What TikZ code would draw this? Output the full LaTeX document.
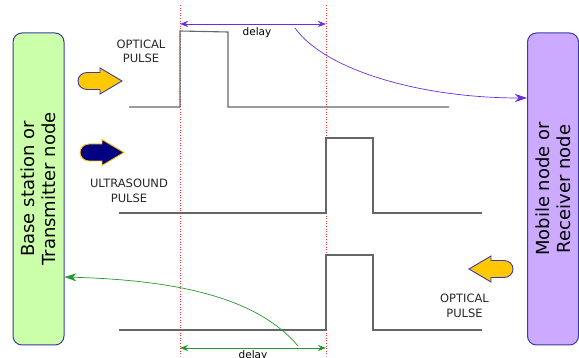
\documentclass[tikz,border=0pt]{standalone}
\usepackage{fontspec}
\setmainfont{DejaVu Sans}
\usetikzlibrary{arrows.meta,positioning,calc}
\definecolor{txGreen}{HTML}{CCFFAA}
\definecolor{rxPurple}{HTML}{CCAAFF}
\definecolor{boxBlue}{HTML}{3A3AA8}
\definecolor{sigGray}{HTML}{666666}
\definecolor{optYellow}{HTML}{FFC800}
\definecolor{usNavy}{HTML}{000080}
\definecolor{dlyPurple}{HTML}{6A2BE2}
\definecolor{dlyGreen}{HTML}{22992A}
\tikzset{pics/pulsearrow/.style={code={
  \draw[line width=0.9pt,#1] (9,8.5) -- (22,8.5) -- (22,13) -- (44,0) -- (22,-13) -- (22,-8.5) -- (9,-8.5)
    arc[start angle=270,end angle=90,x radius=9,y radius=8.5] -- cycle;}}}

\begin{document}
\begin{tikzpicture}[x=1pt,y=-1pt,
  station/.style={draw=boxBlue,line width=1pt,rounded corners=9pt,rotate=90,minimum width=312pt,minimum height=51pt,
    align=center,inner sep=0pt,font=\fontsize{18}{21}\selectfont},
  lbl/.style={align=center,text=black!85,font=\fontsize{11.5}{14.5}\selectfont},
  sig/.style={draw=sigGray,line width=1.1pt},
  timeline/.style={red!80,dotted,line width=0.6pt},
  dly/.style={{Stealth[length=8pt,width=6pt]}-{Stealth[length=8pt,width=6pt]},line width=0.6pt},
  curvearr/.style={-{Stealth[length=12pt,width=8pt]},line width=0.7pt}]
  \useasboundingbox (0,0) rectangle (579,358);
  \node[station,fill=txGreen] (tx) at (38.5,189) {Base station or\\Transmitter node};
  \node[station,fill=rxPurple] (rx) at (553,189) {Mobile node or\\Receiver node};
  \coordinate (m1top) at (180,5); \coordinate (m1bot) at (180,356);
  \coordinate (m2top) at (326,5); \coordinate (m2bot) at (326,356);
  \draw[timeline] (m1top) -- (m1bot);
  \draw[timeline] (m2top) -- (m2bot);
  \draw[sig] (129,107) -- (180,107) -- (180,31) -- (228,32) -- (228,107) -- (449,107);
  \foreach \yb/\yt in {213/138, 330/255}
    \draw[sig] (119,\yb) -- (326,\yb) -- (326,\yt) -- (373,\yt) -- (373,\yb) -- (482,\yb);
  \pic at (78,81) {pulsearrow={fill=optYellow,draw=boxBlue}};
  \pic at (80,152.5) {pulsearrow={fill=usNavy,draw=optYellow}};
  \pic[xscale=-1] at (513,269) {pulsearrow={fill=optYellow,draw=boxBlue}};
  \node[lbl] (opt1) at (141,51.5) {OPTICAL\\PULSE};
  \node[lbl] (us) at (129,191) {ULTRASOUND\\PULSE};
  \node[lbl] (opt2) at (464.5,306) {OPTICAL\\PULSE};
  \coordinate (dp1) at (m1top |- 0,24); \coordinate (dp2) at (m2top |- 0,24);
  \draw[dly,dlyPurple] (dp1) -- node[below=0pt,xshift=4pt,text=black,font=\fontsize{10.5}{12}\selectfont] (delay1) {delay} (dp2);
  \coordinate (dg1) at (m1top |- 0,348); \coordinate (dg2) at (m2top |- 0,348);
  \draw[dly,dlyGreen] (dg1) -- node[below=-1pt,text=black,font=\fontsize{10.5}{12}\selectfont] (delay2) {delay} (dg2);
  \coordinate (ps) at (295,28); \coordinate (gs) at (298,346);
  \draw[curvearr,dlyPurple] (ps) .. controls (325,70) and (420,98) .. (rx.north |- 0,98);
  \draw[curvearr,dlyGreen] (gs) .. controls (255,295) and (170,280) .. (tx.south |- 0,277);
\end{tikzpicture}
\end{document}
